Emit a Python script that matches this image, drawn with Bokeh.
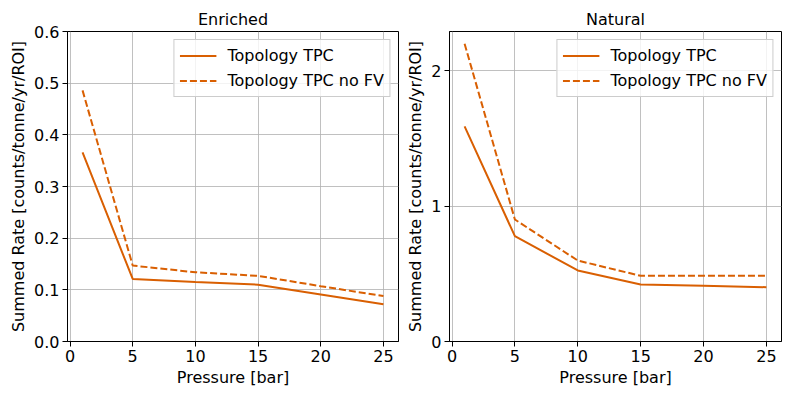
from bokeh.plotting import figure
from bokeh.layouts import row
from bokeh.models import FixedTicker, PrintfTickFormatter, Range1d, Legend, LegendItem
from bokeh.embed import file_html
from bokeh.resources import INLINE

pressure = [1, 5, 10, 15, 20, 25]
enriched_tpc = [0.366, 0.121, 0.115, 0.110, 0.091, 0.072]
enriched_tpc_nofv = [0.486, 0.147, 0.134, 0.127, 0.107, 0.088]
natural_tpc = [1.589, 0.778, 0.525, 0.421, 0.411, 0.401]
natural_tpc_nofv = [2.20, 0.901, 0.598, 0.485, 0.485, 0.485]

x_ticks = [0, 5, 10, 15, 20, 25]
enriched_yticks = [0.0, 0.1, 0.2, 0.3, 0.4, 0.5, 0.6]
natural_yticks = [0, 1, 2]

COLOR = "#d95f02"
FONT = "DejaVu Sans"


def make(title, y1, y2, yticks, ymax, fmt, width, bl, br):
    p = figure(width=width, height=397, output_backend="svg", toolbar_location=None,
               x_range=Range1d(-0.2, 26.2), y_range=Range1d(0, ymax),
               min_border_left=bl, min_border_right=br, min_border_top=31, min_border_bottom=56)
    p.title.text = title
    p.title.align = "center"
    p.title.text_font = FONT
    p.title.text_font_size = "16px"
    p.title.text_font_style = "normal"
    p.title.text_color = "black"
    p.title.offset = 0
    p.title.standoff = 5
    r1 = p.line(pressure, y1, line_color=COLOR, line_width=2)
    r2 = p.line(pressure, y2, line_color=COLOR, line_width=2, line_dash="7 3")
    leg = Legend(items=[LegendItem(label="Topology TPC", renderers=[r1]),
                        LegendItem(label="Topology TPC no FV", renderers=[r2])],
                 location="top_right")
    leg.label_text_font = FONT
    leg.label_text_font_size = "16px"
    leg.label_text_color = "black"
    leg.glyph_width = 37
    leg.label_standoff = 11
    leg.spacing = 4
    leg.label_height = 21
    leg.glyph_height = 21
    leg.border_line_color = "#cccccc"
    leg.border_line_alpha = 1
    leg.background_fill_alpha = 0.8
    leg.margin = 8
    leg.padding = 5
    p.add_layout(leg)
    p.xaxis.ticker = FixedTicker(ticks=x_ticks)
    p.yaxis.ticker = FixedTicker(ticks=yticks)
    p.yaxis.formatter = PrintfTickFormatter(format=fmt)
    p.xaxis.axis_label = "Pressure [bar]"
    p.yaxis.axis_label = "Summed Rate [counts/tonne/yr/ROI]"
    for ax in (p.xaxis, p.yaxis):
        ax.axis_label_text_font = FONT
        ax.axis_label_text_font_size = "16px"
        ax.axis_label_text_font_style = "normal"
        ax.axis_label_text_color = "black"
        ax.major_label_text_font = FONT
        ax.major_label_text_font_size = "16px"
        ax.major_label_text_color = "black"
        ax.axis_line_color = "black"
        ax.major_tick_line_color = "black"
        ax.major_tick_out = 5
        ax.major_tick_in = 0
        ax.minor_tick_line_color = None
        ax.axis_label_standoff = 3
        ax.major_label_standoff = 3
    p.outline_line_color = "black"
    p.outline_line_alpha = 1
    p.grid.grid_line_color = "#b0b0b0"
    p.grid.grid_line_alpha = 0.8
    p.grid.grid_line_width = 1
    return p


p1 = make("Enriched", enriched_tpc, enriched_tpc_nofv, enriched_yticks, 0.6, "%.1f", 400, 67, 2)
p2 = make("Natural", natural_tpc, natural_tpc_nofv, natural_yticks, 2.29, "%d", 393, 49, 12)

layout = row(p1, p2)
open("out.html", "w").write(file_html(layout, INLINE))
